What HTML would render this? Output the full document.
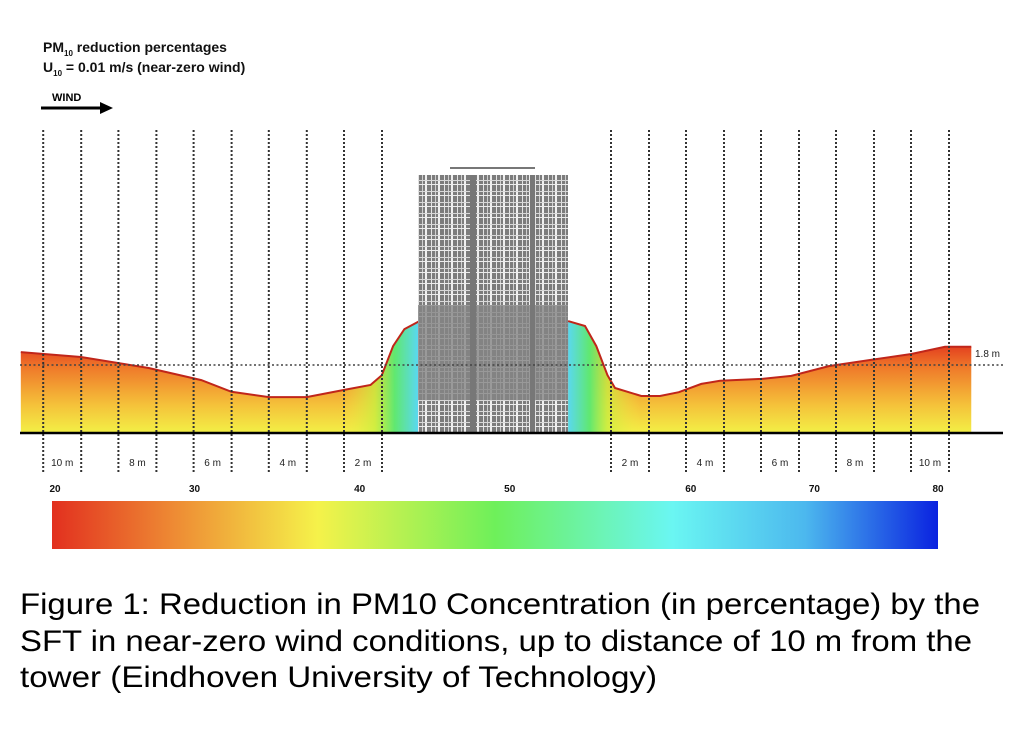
<!DOCTYPE html>
<html><head><meta charset="utf-8"><style>
html,body{margin:0;padding:0;background:#fff;}
svg{display:block;font-family:"Liberation Sans",Arial,sans-serif;}
</style></head><body>
<svg id="fig" width="1024" height="740" viewBox="0 0 1024 740" xmlns="http://www.w3.org/2000/svg">
<defs>
 <linearGradient id="vgrad" x1="0" y1="340" x2="0" y2="433" gradientUnits="userSpaceOnUse">
  <stop offset="0" stop-color="#e0301c"/><stop offset="0.3" stop-color="#ef7a2a"/><stop offset="0.7" stop-color="#f5c23a"/><stop offset="1" stop-color="#f3f046"/>
 </linearGradient>
 <linearGradient id="lgradL" x1="340" y1="0" x2="418" y2="0" gradientUnits="userSpaceOnUse">
  <stop offset="0" stop-color="#f3f046" stop-opacity="0"/><stop offset="0.45" stop-color="#c8f040" stop-opacity="0.8"/><stop offset="0.7" stop-color="#60e870"/><stop offset="1" stop-color="#5ad8f0"/>
 </linearGradient>
 <linearGradient id="lgradR" x1="640" y1="0" x2="568" y2="0" gradientUnits="userSpaceOnUse">
  <stop offset="0" stop-color="#f3f046" stop-opacity="0"/><stop offset="0.45" stop-color="#c8f040" stop-opacity="0.8"/><stop offset="0.7" stop-color="#60e870"/><stop offset="1" stop-color="#5ad8f0"/>
 </linearGradient>
 <linearGradient id="cbar" x1="0" x2="1">
  <stop offset="0" stop-color="#e2301f"/><stop offset="0.14" stop-color="#ee8c34"/><stop offset="0.3" stop-color="#f5f24a"/><stop offset="0.5" stop-color="#6ef05a"/><stop offset="0.7" stop-color="#6af6f2"/><stop offset="0.85" stop-color="#4cb8ee"/><stop offset="1" stop-color="#0a22e0"/>
 </linearGradient>
 <pattern id="grid" width="13" height="11" patternUnits="userSpaceOnUse">
  <rect width="13" height="11" fill="#7c7c7c"/>
  <rect x="2" y="0" width="1" height="11" fill="#e4e4e4"/><rect x="6" y="0" width="1" height="11" fill="#cfcfcf"/><rect x="9" y="0" width="2" height="11" fill="#efefef"/>
  <rect x="0" y="4" width="13" height="1" fill="#d8d8d8"/><rect x="0" y="8" width="13" height="1" fill="#ececec"/>
 </pattern>
</defs>

<g font-weight="bold" font-size="14" fill="#111">
 <text x="43" y="52">PM<tspan font-size="8" dy="4">10</tspan><tspan dy="-4"> reduction percentages</tspan></text>
 <text x="43" y="72">U<tspan font-size="8" dy="4">10</tspan><tspan dy="-4"> = 0.01 m/s (near-zero wind)</tspan></text>
</g>
<g>
 <text x="52" y="101" font-size="11" font-weight="bold">WIND</text>
 <line x1="41" y1="108" x2="104" y2="108" stroke="#000" stroke-width="3"/>
 <polygon points="100,102 113,108 100,114" fill="#000"/>
</g>

<g id="surfaces"></g>
<g id="tower">
 <rect x="418" y="175" width="150" height="258" fill="url(#grid)"/>
 <rect x="418" y="305" width="150" height="95" fill="#858585" opacity="0.8"/>
 <rect x="470" y="175" width="6" height="258" fill="#777"/>
 <rect x="530" y="175" width="5" height="258" fill="#777"/>
 <line x1="450" y1="168" x2="535" y2="168" stroke="#777" stroke-width="2"/>
</g>
<g id="vlines"></g>
<line x1="20" y1="365" x2="1003" y2="365" stroke="#444" stroke-width="1.5" stroke-dasharray="2,2.5"/>
<text x="975" y="357" font-size="10" fill="#222">1.8 m</text>
<line x1="20" y1="433" x2="1003" y2="433" stroke="#000" stroke-width="2.5"/>
<g id="dlabels" font-size="10" fill="#222"></g>

<g id="colorbar">
 <rect x="52" y="501" width="886" height="48" fill="url(#cbar)"/>
</g>
<g id="cticks" font-size="10" font-weight="bold" fill="#111" text-anchor="middle"></g>

<g font-size="30" fill="#000">
 <text x="20" y="614" textLength="960" lengthAdjust="spacingAndGlyphs">Figure 1: Reduction in PM10 Concentration (in percentage) by the</text>
 <text x="20" y="651" textLength="952" lengthAdjust="spacingAndGlyphs">SFT in near-zero wind conditions, up to distance of 10 m from the</text>
 <text x="20" y="687" textLength="637" lengthAdjust="spacingAndGlyphs">tower (Eindhoven University of Technology)</text>
</g>

<script>
// Surface profile data: distance from tower (m) and plume height (m)
const leftDist = [11.1, 9.5, 7.7, 6.3, 5.5, 4.5, 3.5, 2.5, 1.8, 1.5, 1.2, 0.9, 0.5];
const leftHeight = [2.14, 2.01, 1.72, 1.40, 1.09, 0.95, 0.95, 1.14, 1.27, 1.53, 2.30, 2.75, 2.96];
const rightDist = [0.35, 0.8, 1.1, 1.4, 1.6, 2.3, 2.8, 3.3, 3.9, 4.4, 5.5, 6.3, 7.3, 8.4, 9.5, 10.4, 11.1];
const rightHeight = [2.96, 2.83, 2.30, 1.53, 1.19, 0.98, 0.98, 1.08, 1.30, 1.38, 1.43, 1.51, 1.77, 1.93, 2.09, 2.28, 2.28];
const distLabels = [10, 8, 6, 4, 2];
const cbarValues = [20, 30, 40, 50, 60, 70, 80];
const cbarLabelPos = [0, 0.158, 0.345, 0.515, 0.72, 0.86, 1.0];

const NS = 'http://www.w3.org/2000/svg';
const groundY = 433, pxPerM = 37.8;
function xLeft(d){ return 363 - (d - 2) * 37.6; }
function xRight(d){ return 630 + (d - 2) * 37.5; }
function yH(h){ return groundY - h * pxPerM; }
function mk(tag, attrs, parent){ const e = document.createElementNS(NS, tag); for (const k in attrs) e.setAttribute(k, attrs[k]); parent.appendChild(e); return e; }

const surf = document.getElementById('surfaces');
function drawSide(dist, hts, xf, grad, name){
  let top = dist.map((d,i)=>[xf(d), yH(hts[i])]);
  let d = 'M' + top[0][0] + ',' + groundY + ' ' + top.map(p=>'L'+p[0].toFixed(1)+','+p[1].toFixed(1)).join(' ') + ' L' + top[top.length-1][0] + ',' + groundY + ' Z';
  const a = mk('path', {d: d, fill: 'url(#vgrad)'}, surf);
  
  
  const b = mk('path', {d: d, fill: 'url(#' + grad + ')'}, surf);
  
  
  const line = mk('polyline', {points: top.map(p=>p[0].toFixed(1)+','+p[1].toFixed(1)).join(' '), fill: 'none', stroke: '#c0261a', 'stroke-width': 2}, surf);
  
  
}
drawSide(leftDist, leftHeight, xLeft, 'lgradL', 'upwind-plume');
drawSide(rightDist, rightHeight, xRight, 'lgradR', 'downwind-plume');

const vl = document.getElementById('vlines');
const dl = document.getElementById('dlabels');
distLabels.forEach(m => {
  [xLeft(m), xRight(m)].forEach((cx) => {
    [cx - 19, cx + 19].forEach(x => {
      const l = mk('line', {x1: x, y1: 130, x2: x, y2: 472, stroke: '#333', 'stroke-width': 2, 'stroke-dasharray': '2,2'}, vl);
      
      
    });
    const t = mk('text', {x: cx, y: 466, 'text-anchor': 'middle'}, dl);
    t.textContent = m + ' m';
    
    
  });
});

const ct = document.getElementById('cticks');
cbarValues.forEach((v, i) => {
  const t = mk('text', {x: 55 + cbarLabelPos[i] * 883, y: 492}, ct);
  t.textContent = v;
  
  
});
</script>
</svg>
</body></html>
